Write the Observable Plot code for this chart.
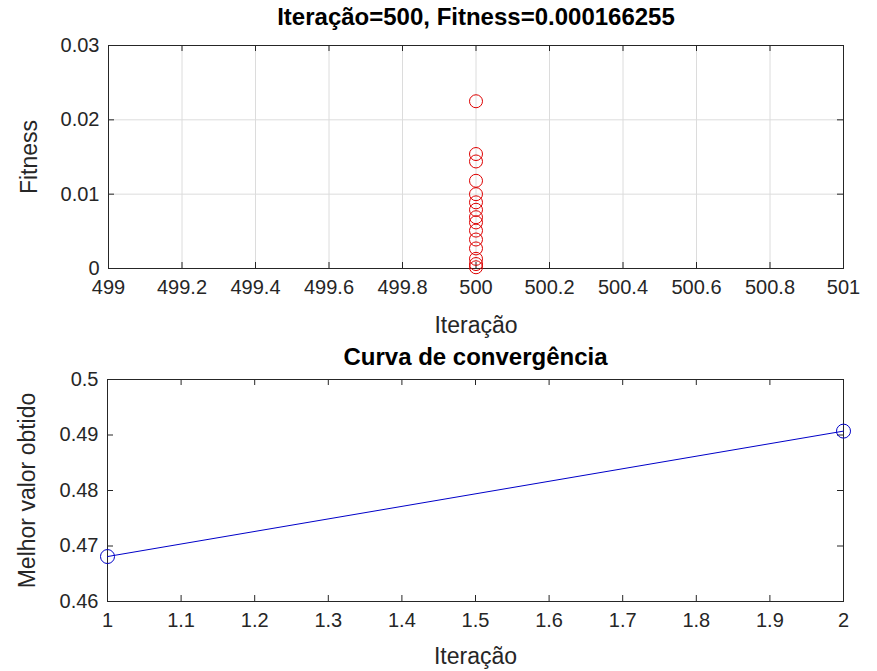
<!DOCTYPE html>
<html>
<head>
<meta charset="utf-8">
<script src="https://cdn.jsdelivr.net/npm/d3@7"></script>
<script src="https://cdn.jsdelivr.net/npm/@observablehq/plot@0.6"></script>
<style>
  body { margin: 0; background: #fff; }
  #fig { position: relative; width: 877px; height: 671px; background: #fff; }
  #top, #bottom { position: absolute; left: 0; }
  #top { top: 0; }
  #bottom { top: 335px; }
  svg { font-family: "Liberation Sans", Arial, sans-serif; }
</style>
</head>
<body>
<div id="fig"><div id="top"></div><div id="bottom"></div></div>
<script>
// ---- Data: top subplot (population fitness at the last iteration) ----
const topTitle = "Iteração=500, Fitness=0.000166255";
const popIteration = 500;
const popFitness = [0.0225, 0.0154, 0.0144, 0.0118, 0.0100, 0.0089, 0.0079, 0.0069,
                    0.0062, 0.0051, 0.0039, 0.0027, 0.0013, 0.0006, 0.000166255];
const topXTicks = [499, 499.2, 499.4, 499.6, 499.8, 500, 500.2, 500.4, 500.6, 500.8, 501];
const topYTicks = [0, 0.01, 0.02, 0.03];

// ---- Data: bottom subplot (convergence curve) ----
const bottomTitle = "Curva de convergência";
const convIteration = [1, 2];
const convBest = [0.4681, 0.4907];
const bottomXTicks = [1, 1.1, 1.2, 1.3, 1.4, 1.5, 1.6, 1.7, 1.8, 1.9, 2];
const bottomYTicks = [0.46, 0.47, 0.48, 0.49, 0.5];

const xLabel = "Iteração";
const topYLabel = "Fitness";
const bottomYLabel = "Melhor valor obtido";

const ink = "#262626";
const W = 877;
const TICK_FS = 20, LABEL_FS = 23, TITLE_FS = 24;

function fmt(d) { return String(+d.toFixed(2)); }

function panel({height, margins, xDomain, yDomain, xTicks, yTicks, grid, marks, title, titleDy, yLabel, xLabelDy, yLabelDx}) {
  const plotH = height - margins.top - margins.bottom;
  const plotW = W - margins.left - margins.right;
  const tk = 6;
  return Plot.plot({
    width: W, height,
    marginTop: margins.top, marginBottom: margins.bottom,
    marginLeft: margins.left, marginRight: margins.right,
    style: {fontSize: TICK_FS + "px", color: ink, background: "transparent", overflow: "visible"},
    x: {domain: xDomain, ticks: xTicks, tickFormat: fmt},
    y: {domain: yDomain, ticks: yTicks, tickFormat: fmt},
    marks: [
      ...(grid ? [Plot.gridX(xTicks, {stroke: "#dcdcdc", strokeOpacity: 1}),
                  Plot.gridY(yTicks, {stroke: "#dcdcdc", strokeOpacity: 1})] : []),
      Plot.axisX(xTicks, {tickSize: 0, tickPadding: 11, tickFormat: fmt, label: null, fill: ink, fontSize: TICK_FS}),
      Plot.axisY(yTicks, {tickSize: 0, tickPadding: 9, tickFormat: fmt, label: null, fill: ink, fontSize: TICK_FS}),
      // inward ticks (MATLAB style) on all four sides
      Plot.tickX(xTicks, {x: d => d, insetTop: plotH - tk, stroke: ink}),
      Plot.tickX(xTicks, {x: d => d, insetBottom: plotH - tk, stroke: ink}),
      Plot.tickY(yTicks, {y: d => d, insetRight: plotW - tk, stroke: ink}),
      Plot.tickY(yTicks, {y: d => d, insetLeft: plotW - tk, stroke: ink}),
      Plot.frame({stroke: ink, strokeWidth: 1}),
      ...marks,
      Plot.text([title], {text: d => d, frameAnchor: "top", dy: titleDy, lineAnchor: "middle",
                          fontWeight: "bold", fontSize: TITLE_FS, fill: "#000"}),
      Plot.text([xLabel], {text: d => d, frameAnchor: "bottom", dy: xLabelDy, lineAnchor: "middle",
                           fontSize: LABEL_FS, fill: ink}),
      Plot.text([yLabel], {text: d => d, frameAnchor: "left", dx: yLabelDx, rotate: -90,
                           textAnchor: "middle", lineAnchor: "middle",
                           fontSize: LABEL_FS, fill: ink})
    ]
  });
}

const topData = popFitness.map(f => ({it: popIteration, f}));
const topChart = panel({
  height: 335,
  margins: {top: 45, bottom: 67, left: 108, right: 34},
  xDomain: [499, 501], yDomain: [0, 0.03],
  xTicks: topXTicks, yTicks: topYTicks, grid: true,
  marks: [Plot.dot(topData, {x: "it", y: "f", r: 6.5, stroke: "#dd0000", strokeWidth: 1, fill: "none"})],
  title: topTitle, titleDy: -28, yLabel: topYLabel, xLabelDy: 57, yLabelDx: -79
});

const convData = convIteration.map((it, i) => ({it, v: convBest[i]}));
const bottomChart = panel({
  height: 336,
  margins: {top: 44, bottom: 70, left: 107, right: 34},
  xDomain: [1, 2], yDomain: [0.46, 0.5],
  xTicks: bottomXTicks, yTicks: bottomYTicks, grid: false,
  marks: [
    Plot.line(convData, {x: "it", y: "v", stroke: "#0000c8", strokeWidth: 1}),
    Plot.dot(convData, {x: "it", y: "v", r: 7, stroke: "#0000c8", strokeWidth: 1, fill: "none"})
  ],
  title: bottomTitle, titleDy: -22, yLabel: bottomYLabel, xLabelDy: 55, yLabelDx: -80
});

document.getElementById("top").appendChild(topChart);
document.getElementById("bottom").appendChild(bottomChart);
</script>
</body>
</html>
